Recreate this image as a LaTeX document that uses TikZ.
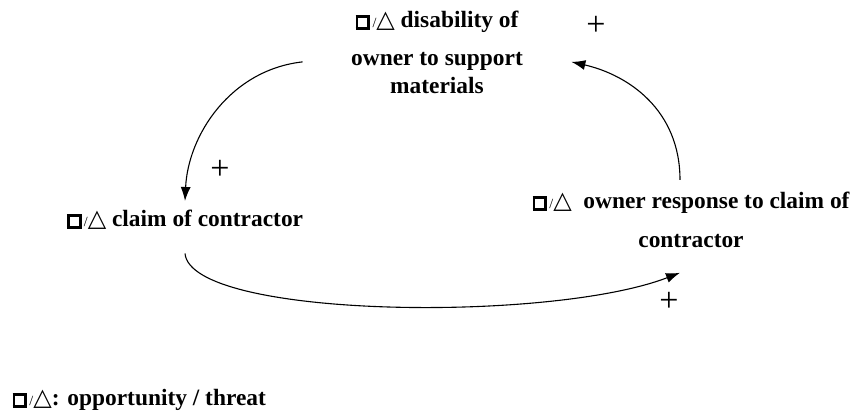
\documentclass[tikz,border=0pt]{standalone}
\usepackage{fontspec}
\setmainfont{Liberation Serif}
\newfontfamily\symfont{DejaVu Sans}
\usetikzlibrary{arrows.meta}

\newcommand{\opbox}{{\setlength{\fboxrule}{2.8pt}\setlength{\fboxsep}{0pt}\fbox{\rule{0pt}{9pt}\hspace{9pt}}}}
\newcommand{\thtri}{{\fontsize{24}{24}\selectfont\symfont △}}
\newcommand{\opthr}{\opbox{\fontsize{14}{14}\selectfont\mdseries\,/}\thtri}

\tikzset{
	var/.style={font=\fontsize{23.4}{28}\selectfont\bfseries, inner sep=0pt, align=center},
	sign/.style={font=\fontsize{34}{34}\selectfont, inner sep=0pt},
}

\begin{document}
\begin{tikzpicture}[>={Latex[length=14pt,width=10pt]}, x=1pt, y=-1pt, line width=1.1pt]
		\useasboundingbox (0,0) rectangle (851,412);
		%variables
		\node [var, anchor=base, inner xsep=48pt] (disab) at (437,93) {\opthr\ disability of\\[10pt] owner to support\\ materials};
		\node [var, anchor=base] (claim) at (185,226) {\opthr\ claim of contractor};
		\node [var, anchor=base] (resp) at (691,247) {\opthr\ \ owner response to claim of\\[11pt] contractor};
		%signs
		\node [sign] (s1) at (596,26) {+};
		\node [sign] (s2) at (220,170) {+};
		\node [sign] (s3) at (669,302) {+};
		%loop
		\draw [->] ([yshift=-10pt]disab.west) .. controls +(-72,8) and +(3,-66) .. ([yshift=8pt]claim.north);
		\draw [->] ([yshift=-24pt]claim.south) .. controls +(6,65) and +(-130,50) .. ([shift={(-11pt,-25pt)}]resp.south);
		\draw [->] ([shift={(-11pt,11pt)}]resp.north) .. controls +(0,-70) and +(57,13) .. ([yshift=-10pt]disab.east);
		%legend
		\node [var, anchor=base west] (legend) at (12,405) {\opthr: opportunity / threat};
	\end{tikzpicture}
\end{document}
